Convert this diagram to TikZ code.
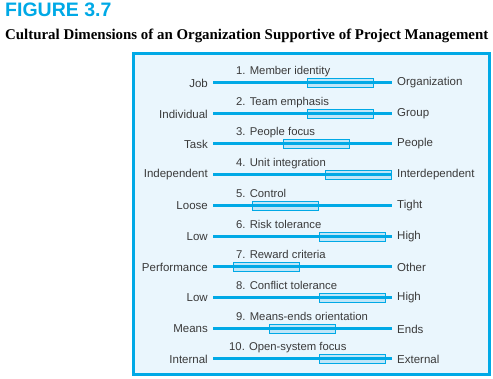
\documentclass[tikz,border=0pt]{standalone}
\usepackage{fontspec}
\setmainfont{Liberation Sans}
\newfontfamily\capfont{Liberation Serif}
\definecolor{figcyan}{HTML}{00A9E6}
\definecolor{panelbg}{HTML}{EAF6FD}
\definecolor{boxfill}{HTML}{BFE6F8}
\definecolor{labelgray}{HTML}{3A3A3A}
\tikzset{
  endlabel/.style={inner sep=0pt, text=labelgray, font=\fontsize{11.5}{13}\selectfont},
  dimtitle/.style={inner sep=0pt, anchor=base west, text=labelgray, font=\fontsize{11.3}{13}\selectfont},
  scale line/.style={figcyan, line width=3pt},
  rangebox/.style={draw=figcyan, line width=0.8pt, minimum width=66pt, minimum height=9pt, inner sep=0pt}
}
\begin{document}
\begin{tikzpicture}[x=1pt, y=-1pt]
  \useasboundingbox (0,0) rectangle (493,379);
  \node[anchor=base west, inner sep=0pt, text=figcyan, font=\fontsize{19.5}{22}\selectfont\bfseries] (figno) at (5,17) {FIGURE 3.7};
  \node[anchor=base west, inner sep=0pt, font=\fontsize{14.9}{16}\selectfont\capfont\bfseries] (figcap) at (5,40) {Cultural Dimensions of an Organization Supportive of Project Management};
  \draw[figcyan, line width=3pt, fill=panelbg] (133,53.5) rectangle (489.5,374.5);
  \foreach \i/\y/\lft/\rgt/\ttl/\tx/\bx in {
      1/83/Job/Organization/1. Member identity/236/307,
      2/114/Individual/Group/2. Team emphasis/236/307,
      3/144/Task/People/3. People focus/236/283,
      4/175/Independent/Interdependent/4. Unit integration/236/325,
      5/206/Loose/Tight/5. Control/236/252,
      6/237/Low/High/6. Risk tolerance/236/319,
      7/267/Performance/Other/7. Reward criteria/236/233,
      8/298/Low/High/8. Conflict tolerance/236/319,
      9/329/Means/Ends/9. Means-ends orientation/236/269,
      10/359/Internal/External/10. Open-system focus/229/319} {
    \coordinate (a\i) at (213,\y);
    \coordinate (b\i) at (392,\y);
    \node[endlabel, anchor=east] (l\i) at (208,\y) {\lft};
    \node[endlabel, anchor=west] (r\i) at (397,\y) {\rgt};
    \node[dimtitle] (t\i) at (\tx,\y-8.5) {\ttl};
    \node[rangebox, draw=none, fill=boxfill, anchor=west] (box\i) at (\bx,\y) {};
    \draw[scale line] (a\i) -- (b\i);
    \draw[figcyan, line width=0.8pt] (box\i.south west) rectangle (box\i.north east);
  }
\end{tikzpicture}
\end{document}
